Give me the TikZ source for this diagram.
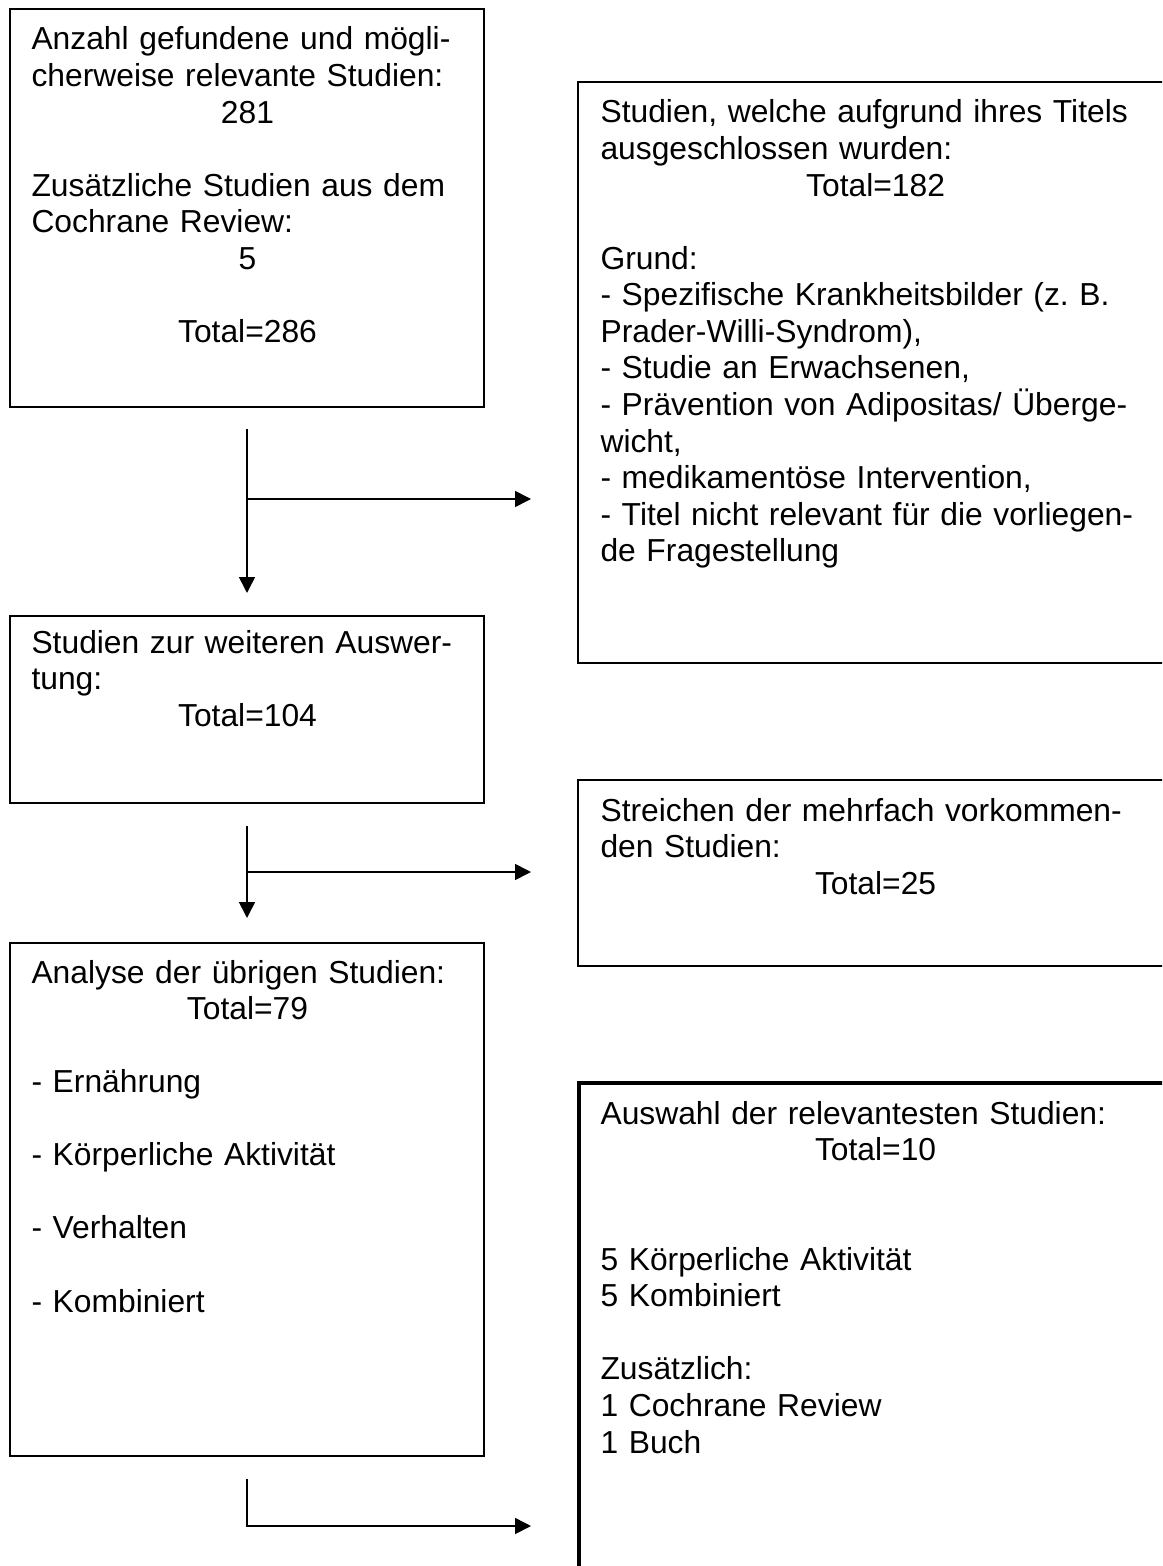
\documentclass[tikz,border=0pt]{standalone}
\usepackage{fontspec}
\setmainfont{Liberation Sans}
\usetikzlibrary{arrows.meta,fit}
\newcommand\mctr[1]{\makebox[\linewidth]{#1}}
\frenchspacing
\begin{document}
\begin{tikzpicture}[x=0.3774pt,y=-0.3774pt,
  box/.style={draw=black, line width=0.6pt, inner sep=0pt},
  thickbox/.style={draw=black, line width=1.15pt, inner sep=0pt},
  txt/.style={anchor=base west, inner sep=0pt, align=left, font=\fontsize{12}{13.8}\selectfont},
  ltxt/.style={txt, text width=163.0pt},
  rtxt/.style={txt, text width=207.6pt},
  arr/.style={line width=0.6pt, -{Triangle[length=6pt,width=6pt]}},
  plain/.style={line width=0.6pt}]
\fill[white] (0,0) rectangle (1162,1566);
\useasboundingbox (0,0) rectangle (1162,1566);
\clip (0,0) rectangle (1162,1566);

% box corners
\coordinate (b1nw) at (10,9);    \coordinate (b1se) at (484,407);
\coordinate (b2nw) at (578,82);  \coordinate (b2se) at (1180,663);
\coordinate (b3nw) at (10,616);  \coordinate (b3se) at (484,803);
\coordinate (b4nw) at (10,943);  \coordinate (b4se) at (484,1456);
\coordinate (b5nw) at (578,780); \coordinate (b5se) at (1180,966);
\coordinate (b6nw) at (579,1083); \coordinate (b6se) at (1180,1590);

\node[box, fit=(b1nw)(b1se)] (b1) {};
\node[box, fit=(b2nw)(b2se)] (b2) {};
\node[box, fit=(b3nw)(b3se)] (b3) {};
\node[box, fit=(b4nw)(b4se)] (b4) {};
\node[box, fit=(b5nw)(b5se)] (b5) {};
\node[thickbox, fit=(b6nw)(b6se)] (b6) {};

% texts
\node[ltxt] (t1) at (31,50) {Anzahl gefundene und mögli-\\
cherweise relevante Studien:\\
\mctr{281}\\
\mbox{}\\
Zusätzliche Studien aus dem\\
Cochrane Review:\\
\mctr{5}\\
\mbox{}\\
\mctr{Total=286}};

\node[rtxt] (t2) at (600,123) {Studien, welche aufgrund ihres Titels\\
ausgeschlossen wurden:\\
\mctr{Total=182}\\
\mbox{}\\
Grund:\\
- Spezifische Krankheitsbilder (z. B.\\
Prader-Willi-Syndrom),\\
- Studie an Erwachsenen,\\
- Prävention von Adipositas/ Überge-\\
wicht,\\
- medikamentöse Intervention,\\
- Titel nicht relevant für die vorliegen-\\
de Fragestellung};

\node[ltxt] (t3) at (31,653) {Studien zur weiteren Auswer-\\
tung:\\
\mctr{Total=104}};

\node[ltxt] (t4) at (31,983) {Analyse der übrigen Studien:\\
\mctr{Total=79}\\
\mbox{}\\
- Ernährung\\
\mbox{}\\
- Körperliche Aktivität\\
\mbox{}\\
- Verhalten\\
\mbox{}\\
- Kombiniert};

\node[rtxt] (t5) at (600,821) {Streichen der mehrfach vorkommen-\\
den Studien:\\
\mctr{Total=25}};

\node[rtxt] (t6) at (600,1124) {Auswahl der relevantesten Studien:\\
\mctr{Total=10}\\
\mbox{}\\
\mbox{}\\
5 Körperliche Aktivität\\
5 Kombiniert\\
\mbox{}\\
Zusätzlich:\\
1 Cochrane Review\\
1 Buch};

% connectors
\coordinate (a1s) at (247,429);
\coordinate (a1e) at (247,593);
\coordinate (a1j) at (247,499);
\coordinate (a1r) at (531,499);
\draw[arr] (a1s) -- (a1e);
\draw[arr] (a1j) -- (a1r);

\coordinate (a2s) at (247,826);
\coordinate (a2e) at (247,918);
\coordinate (a2j) at (247,872);
\coordinate (a2r) at (531,872);
\draw[arr] (a2s) -- (a2e);
\draw[arr] (a2j) -- (a2r);

\coordinate (a3s) at (247,1479);
\coordinate (a3r) at (531,1526);
\draw[arr] (a3s) |- (a3r);
\end{tikzpicture}
\end{document}
